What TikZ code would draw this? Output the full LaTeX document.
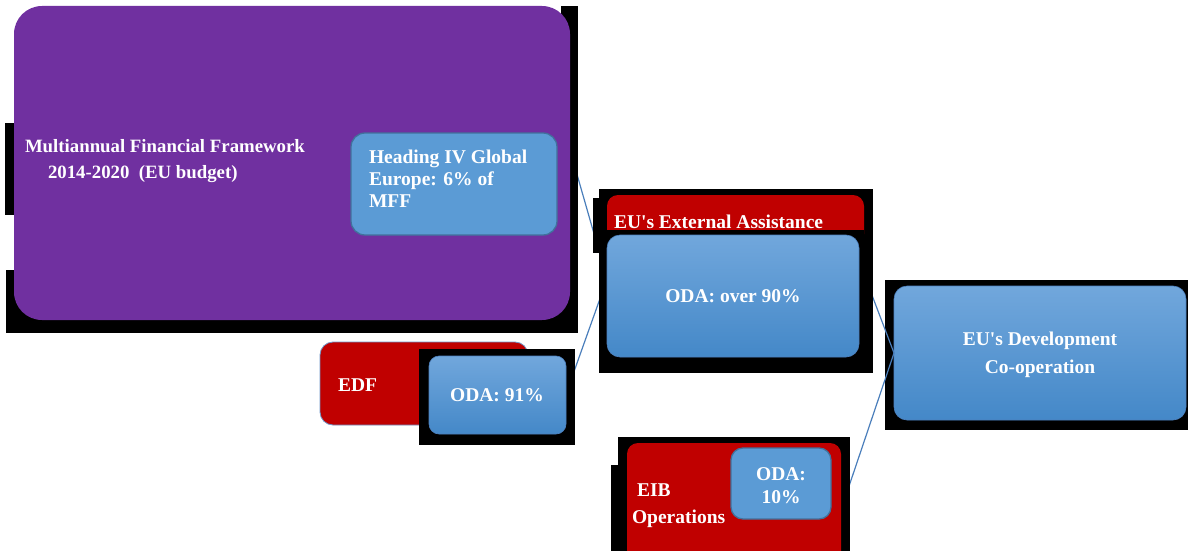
\documentclass[tikz,border=0pt]{standalone}
\usepackage{fontspec}
\setmainfont{Liberation Serif}[Ligatures=TeXOff]
\definecolor{mffpurple}{RGB}{112,48,160}
\definecolor{boxred}{RGB}{192,0,0}
\definecolor{flatblue}{RGB}{91,155,213}
\definecolor{flatline}{RGB}{65,113,156}
\definecolor{gradtop}{RGB}{113,167,220}
\definecolor{gradbot}{RGB}{68,136,200}
\definecolor{gradline}{RGB}{77,128,190}
\definecolor{connline}{RGB}{74,126,187}
\definecolor{edfline}{RGB}{110,150,200}
\newcommand\myfs[1]{\fontsize{#1}{#1}\selectfont}
\begin{document}
\begin{tikzpicture}[x=1pt,y=-1pt,
  sz/.style 2 args={minimum width=#1pt, minimum height=#2pt},
  base/.style={inner sep=0pt, outer sep=0pt, anchor=north west},
  blk/.style={base, fill=black, draw=none},
  mffbox/.style={base, fill=mffpurple, draw=none, rounded corners=28pt},
  redbox/.style={base, fill=boxred, draw=none, rounded corners=11pt},
  flatbox/.style={base, fill=flatblue, draw=flatline, line width=1.3pt, rounded corners=14pt},
  gradbox/.style={base, top color=gradtop, bottom color=gradbot, draw=gradline, line width=0.6pt, rounded corners=13pt},
  txt/.style={inner sep=0pt, outer sep=0pt, text=white, font=\bfseries\myfs{19.5}},
  txtl/.style={txt, anchor=base west},
  txtc/.style={txt, anchor=base},
  conn/.style={draw=connline, line width=1.2pt}
]
\useasboundingbox (0,0) rectangle (1188,551);
\clip (0,0) rectangle (1188,551);

% connectors on the left (drawn below the boxes)
\coordinate (mffOut) at (572,157);
\coordinate (edfOut) at (566,394);
\coordinate (extIn) at (607,279);
\draw[conn] (mffOut) -- (extIn);
\draw[conn] (edfOut) -- (extIn);

% Multiannual Financial Framework
\node[blk, sz={12}{92}] (mffShL) at (5,123) {};
\node[blk, sz={12}{63}] (mffShL2) at (6,270) {};
\node[blk, sz={572}{40}] (mffShB) at (6,293) {};
\node[blk, sz={17}{327}] (mffShR) at (561,6) {};
\node[mffbox, sz={556}{314}] (mff) at (14,6) {};
\node[txtl, font=\bfseries\myfs{18.8}] (mffA) at (25,152) {Multiannual Financial Framework};
\node[txtl, font=\bfseries\myfs{18.8}] (mffB) at (48,178) {2014-2020\ \ (EU budget)};

% Heading IV
\node[flatbox, sz={206}{102}] (head) at (351,133) {};
\node[txtl] (headA) at (369,163) {Heading IV Global};
\node[txtl] (headB) at (369,185) {Europe: 6\% of};
\node[txtl] (headC) at (369,207) {MFF};

% EU's Development Co-operation
\node[blk, sz={303}{150}] (devSh) at (885,280) {};
\node[gradbox, sz={292}{134}] (dev) at (894,286) {};
\node[txtc] (devA) at (1040,345) {EU's Development};
\node[txtc] (devB) at (1040,373) {Co-operation};

% connectors on the right
\coordinate (extOut) at (862,269);
\coordinate (eibOut) at (845,498);
\draw[conn] (extOut) -- (dev.west);
\draw[conn] (eibOut) -- (dev.west);

% EU's External Assistance
\node[blk, sz={7}{55}] (extTab) at (593,198) {};
\node[blk, sz={274}{184}] (extSh) at (599,189) {};
\node[redbox, sz={257}{50}] (ext) at (607,195) {};
\node[blk, sz={257}{20}] (extCut) at (607,230) {};
\node[gradbox, sz={252}{122}] (oda90) at (607,235) {};
\node[txtl] (extT) at (614,228) {EU's External Assistance};
\node[txtc] (oda90T) at (733,302) {ODA: over 90\%};

% EDF
\node[redbox, draw=edfline, line width=0.8pt, sz={208}{83}, rounded corners=13pt] (edf) at (320,342) {};
\node[blk, sz={156}{96}] (edfSh) at (419,349) {};
\node[gradbox, sz={137}{78}, rounded corners=10pt] (oda91) at (429,356) {};
\node[txtl] (edfT) at (338,391) {EDF};
\node[txtc] (oda91T) at (497,401) {ODA: 91\%};

% EIB Operations
\node[blk, sz={232}{120}] (eibSh) at (618,437) {};
\node[blk, sz={10}{90}] (eibShL) at (611,465) {};
\node[redbox, sz={214}{130}] (eib) at (627,443) {};
\node[flatbox, sz={100}{71}, rounded corners=12pt] (oda10) at (731,448) {};
\node[txtl] (eibA) at (637,496) {EIB};
\node[txtl] (eibB) at (632,523) {Operations};
\node[txtc] (oda10A) at (781,480) {ODA:};
\node[txtc] (oda10B) at (781,503) {10\%};
\end{tikzpicture}
\end{document}
